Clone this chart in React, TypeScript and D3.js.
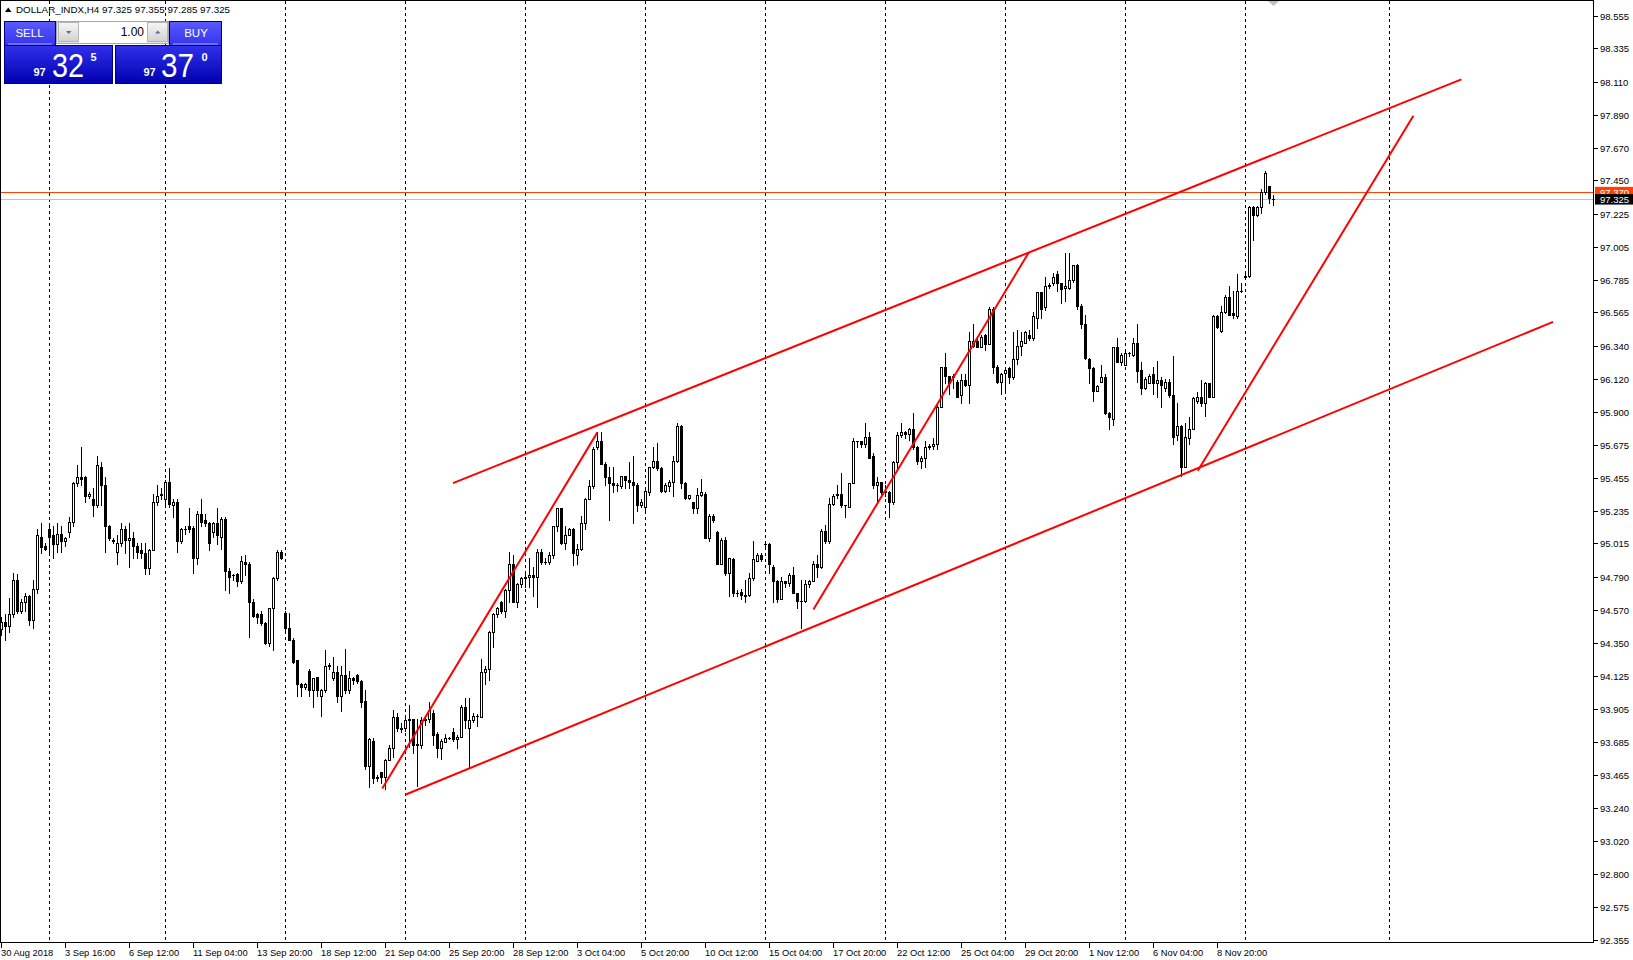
import React from 'react';
import * as d3 from 'd3';

// ---------- DATA ----------
// H4 candles [open, high, low, close], DOLLAR_INDX, 30 Aug 2018 -> 9 Nov 2018
const ohlc: [number, number, number, number][] = [
  [94.44,94.52,94.40,94.49],[94.49,94.54,94.37,94.46],[94.46,94.65,94.42,94.54],[94.54,94.82,94.52,94.77],
  [94.77,94.81,94.55,94.56],[94.56,94.64,94.55,94.62],[94.62,94.68,94.56,94.66],[94.66,94.67,94.47,94.50],
  [94.50,94.77,94.45,94.71],[94.71,95.11,94.68,95.07],[95.06,95.15,94.95,94.99],[95.00,95.02,94.97,94.98],
  [95.11,95.13,94.94,95.06],[95.07,95.13,94.92,95.01],[95.01,95.15,94.96,95.08],[95.08,95.13,94.96,95.03],
  [95.03,95.06,95.00,95.05],[95.09,95.19,95.06,95.16],[95.16,95.43,95.13,95.42],[95.42,95.54,95.40,95.46],
  [95.46,95.66,95.41,95.45],[95.46,95.47,95.29,95.33],[95.33,95.36,95.32,95.35],[95.31,95.39,95.20,95.27],
  [95.27,95.60,95.26,95.54],[95.53,95.56,95.27,95.41],[95.41,95.46,94.96,95.13],[95.13,95.14,95.04,95.05],
  [95.04,95.05,95.02,95.03],[94.96,95.07,94.88,95.02],[95.02,95.15,95.00,95.11],[95.11,95.13,94.95,95.04],
  [95.04,95.15,94.86,95.05],[95.05,95.09,94.92,95.00],[95.00,95.02,94.92,94.96],[94.97,95.02,94.92,94.95],
  [94.95,95.02,94.81,94.85],[94.85,94.98,94.81,94.97],[94.97,95.35,94.97,95.29],[95.29,95.41,95.27,95.33],
  [95.34,95.39,95.31,95.35],[95.31,95.44,95.27,95.43],[95.43,95.52,95.26,95.28],[95.27,95.31,95.19,95.29],
  [95.29,95.31,94.96,95.03],[95.03,95.12,95.02,95.11],[95.11,95.13,95.08,95.11],[95.13,95.25,95.09,95.11],
  [95.12,95.13,94.82,94.92],[94.92,95.23,94.88,95.21],[95.21,95.31,95.13,95.16],[95.17,95.21,95.13,95.15],
  [95.15,95.16,94.97,95.02],[95.09,95.16,95.06,95.15],[95.15,95.25,95.01,95.07],[95.06,95.19,94.98,95.18],
  [95.18,95.19,94.70,94.83],[94.83,94.85,94.68,94.79],[94.80,94.81,94.77,94.80],[94.81,94.82,94.73,94.76],
  [94.76,94.93,94.75,94.90],[94.89,94.94,94.80,94.88],[94.88,94.89,94.39,94.62],[94.62,94.64,94.52,94.53],
  [94.54,94.55,94.48,94.52],[94.54,94.56,94.47,94.48],[94.48,94.49,94.34,94.35],[94.35,94.58,94.33,94.58],
  [94.58,94.79,94.30,94.78],[94.78,94.97,94.77,94.96],[94.96,94.97,94.91,94.92],[94.55,94.56,94.43,94.45],
  [94.45,94.55,94.37,94.37],[94.37,94.38,94.21,94.22],[94.23,94.23,93.99,94.07],[94.07,94.08,93.99,94.05],
  [94.05,94.08,94.04,94.07],[94.16,94.17,93.99,94.03],[94.03,94.11,93.92,94.11],[94.12,94.12,93.99,94.03],
  [93.99,94.04,93.86,94.03],[94.03,94.30,94.02,94.19],[94.19,94.21,94.17,94.20],[94.11,94.25,94.10,94.15],
  [94.15,94.19,93.95,93.99],[93.99,94.19,93.89,94.13],[94.13,94.31,94.01,94.03],[94.03,94.16,94.01,94.11],
  [94.11,94.12,94.07,94.10],[94.13,94.14,94.08,94.09],[94.09,94.10,93.92,93.95],[93.96,94.03,93.50,93.52],
  [93.52,93.71,93.38,93.70],[93.69,93.71,93.41,93.44],[93.44,93.46,93.42,93.45],[93.48,93.48,93.41,93.45],
  [93.45,93.57,93.37,93.56],[93.56,93.66,93.56,93.64],[93.64,93.90,93.58,93.85],[93.85,93.88,93.76,93.78],
  [93.78,93.81,93.75,93.77],[93.78,93.86,93.76,93.83],[93.83,93.93,93.65,93.84],[93.84,93.84,93.61,93.66],
  [93.66,93.84,93.39,93.67],[93.66,93.85,93.64,93.83],[93.83,93.86,93.80,93.84],[93.84,93.95,93.82,93.90],
  [93.88,93.90,93.66,93.73],[93.74,93.75,93.58,93.64],[93.64,93.70,93.57,93.69],[93.68,93.74,93.68,93.71],
  [93.71,93.72,93.70,93.71],[93.75,93.78,93.69,93.70],[93.70,93.73,93.64,93.72],[93.72,93.93,93.72,93.92],
  [93.92,93.98,93.78,93.83],[93.78,93.98,93.51,93.83],[93.83,93.88,93.82,93.86],[93.86,93.87,93.79,93.86],
  [93.85,94.24,93.85,94.15],[94.15,94.19,94.07,94.17],[94.17,94.43,94.10,94.42],[94.42,94.55,94.32,94.54],
  [94.54,94.59,94.52,94.58],[94.62,94.63,94.55,94.56],[94.56,94.71,94.52,94.70],[94.70,94.96,94.62,94.88],
  [94.88,94.94,94.62,94.62],[94.62,94.75,94.59,94.74],[94.74,94.79,94.72,94.78],[94.78,94.82,94.72,94.79],
  [94.79,94.92,94.72,94.80],[94.80,94.86,94.66,94.79],[94.79,94.98,94.59,94.96],[94.96,94.98,94.88,94.89],
  [94.89,94.92,94.88,94.89],[94.89,94.96,94.88,94.94],[94.94,95.13,94.92,95.13],[95.13,95.25,95.10,95.25],
  [95.25,95.25,95.01,95.02],[95.02,95.13,94.98,95.07],[95.07,95.12,95.07,95.11],[95.11,95.12,94.87,94.95],
  [94.94,95.01,94.88,94.98],[94.98,95.20,94.97,95.15],[95.15,95.32,95.11,95.31],[95.31,95.44,95.31,95.40],
  [95.40,95.66,95.39,95.65],[95.66,95.76,95.65,95.70],[95.70,95.76,95.55,95.55],[95.55,95.56,95.41,95.46],
  [95.46,95.53,95.17,95.42],[95.42,95.53,95.36,95.41],[95.41,95.42,95.37,95.41],[95.40,95.47,95.39,95.47],
  [95.47,95.47,95.39,95.44],[95.44,95.56,95.39,95.43],[95.43,95.60,95.15,95.41],[95.41,95.42,95.23,95.27],
  [95.27,95.31,95.26,95.29],[95.26,95.39,95.23,95.37],[95.36,95.53,95.34,95.53],[95.53,95.66,95.52,95.57],
  [95.57,95.69,95.51,95.52],[95.52,95.53,95.36,95.37],[95.37,95.42,95.36,95.41],[95.40,95.44,95.37,95.43],
  [95.43,95.60,95.33,95.57],[95.57,95.82,95.56,95.80],[95.80,95.81,95.39,95.42],[95.42,95.43,95.31,95.32],
  [95.32,95.34,95.31,95.34],[95.29,95.29,95.22,95.25],[95.25,95.39,95.22,95.34],[95.34,95.45,95.33,95.36],
  [95.35,95.36,95.05,95.05],[95.05,95.21,95.03,95.20],[95.20,95.21,95.16,95.17],[95.09,95.10,94.88,94.88],
  [94.88,95.05,94.88,95.04],[95.04,95.06,94.80,94.82],[94.82,94.92,94.66,94.92],[94.91,94.92,94.66,94.68],
  [94.68,94.70,94.66,94.68],[94.69,94.71,94.64,94.67],[94.67,94.77,94.62,94.66],[94.67,94.82,94.66,94.78],
  [94.78,95.03,94.77,94.91],[94.90,94.95,94.90,94.94],[94.94,94.95,94.90,94.91],[95.01,95.02,95.00,95.01],
  [95.01,95.02,94.82,94.88],[94.86,94.87,94.62,94.76],[94.76,94.77,94.62,94.64],[94.64,94.79,94.64,94.76],
  [94.76,94.76,94.72,94.75],[94.75,94.82,94.73,94.80],[94.80,94.86,94.68,94.68],[94.68,94.68,94.58,94.63],
  [94.63,94.77,94.45,94.63],[94.63,94.77,94.62,94.74],[94.74,94.77,94.72,94.76],[94.76,94.90,94.76,94.88],
  [94.88,94.94,94.79,94.86],[94.86,95.11,94.85,95.10],[95.10,95.14,95.02,95.03],[95.03,95.32,95.02,95.28],
  [95.28,95.35,95.27,95.33],[95.34,95.41,95.32,95.35],[95.35,95.49,95.26,95.27],[95.27,95.27,95.19,95.27],
  [95.26,95.42,95.26,95.42],[95.42,95.72,95.42,95.70],[95.70,95.70,95.66,95.70],[95.70,95.70,95.66,95.68],
  [95.68,95.82,95.66,95.73],[95.73,95.76,95.59,95.59],[95.60,95.62,95.39,95.41],[95.41,95.46,95.29,95.43],
  [95.43,95.43,95.35,95.36],[95.37,95.41,95.33,95.36],[95.36,95.37,95.19,95.29],[95.29,95.57,95.28,95.56],
  [95.56,95.76,95.52,95.74],[95.74,95.82,95.73,95.76],[95.76,95.77,95.72,95.75],[95.75,95.79,95.71,95.78],
  [95.78,95.89,95.65,95.66],[95.66,95.67,95.55,95.57],[95.57,95.60,95.52,95.59],[95.59,95.70,95.53,95.66],
  [95.66,95.68,95.65,95.67],[95.67,95.72,95.65,95.68],[95.68,95.96,95.65,95.93],[95.93,96.20,95.93,96.20],
  [96.20,96.29,96.09,96.14],[96.14,96.14,96.02,96.09],[96.13,96.15,96.06,96.14],[96.10,96.11,96.00,96.00],
  [96.01,96.15,95.96,96.11],[96.11,96.15,96.07,96.08],[96.08,96.43,95.96,96.37],[96.34,96.49,96.33,96.37],
  [96.37,96.40,96.33,96.33],[96.33,96.41,96.33,96.40],[96.41,96.42,96.31,96.35],[96.35,96.60,96.35,96.59],
  [96.59,96.60,96.16,96.20],[96.20,96.21,96.09,96.10],[96.10,96.16,96.02,96.15],[96.16,96.20,96.04,96.18],
  [96.19,96.20,96.09,96.13],[96.13,96.43,96.12,96.25],[96.25,96.45,96.22,96.34],[96.34,96.43,96.28,96.37],
  [96.36,96.44,96.36,96.43],[96.41,96.45,96.38,96.39],[96.39,96.57,96.38,96.54],[96.53,96.70,96.46,96.70],
  [96.70,96.70,96.53,96.59],[96.60,96.80,96.58,96.74],[96.74,96.76,96.73,96.75],[96.76,96.83,96.75,96.80],
  [96.82,96.84,96.71,96.76],[96.76,96.76,96.63,96.72],[96.73,96.96,96.64,96.74],[96.73,96.96,96.72,96.78],
  [96.78,96.88,96.77,96.88],[96.88,96.89,96.59,96.61],[96.61,96.62,96.46,96.49],[96.49,96.55,96.25,96.26],
  [96.25,96.26,96.09,96.19],[96.19,96.20,95.97,96.04],[96.04,96.08,96.04,96.07],[96.10,96.21,96.10,96.13],
  [96.13,96.15,95.88,95.89],[95.89,95.90,95.78,95.86],[95.85,96.33,95.81,96.33],[96.33,96.39,96.23,96.23],
  [96.23,96.29,96.21,96.28],[96.21,96.31,96.21,96.29],[96.29,96.30,96.27,96.29],[96.28,96.39,96.27,96.36],
  [96.36,96.49,96.10,96.17],[96.18,96.23,96.02,96.06],[96.06,96.13,96.05,96.12],[96.09,96.15,96.09,96.14],
  [96.15,96.20,96.02,96.09],[96.09,96.24,96.00,96.11],[96.11,96.13,95.93,96.08],[96.06,96.12,96.04,96.10],
  [96.10,96.12,96.00,96.01],[96.01,96.27,95.68,95.73],[95.74,95.96,95.71,95.80],[95.80,95.81,95.47,95.53],
  [95.53,95.82,95.53,95.73],[95.72,95.86,95.68,95.78],[95.78,96.00,95.78,95.99],[95.97,96.03,95.96,96.00],
  [96.00,96.11,95.94,95.96],[95.96,96.10,95.87,96.09],[96.09,96.09,96.00,96.00],[96.00,96.55,96.00,96.54],
  [96.54,96.55,96.46,96.47],[96.44,96.61,96.43,96.57],[96.57,96.68,96.56,96.67],[96.67,96.74,96.55,96.55],
  [96.56,96.71,96.53,96.55],[96.54,96.82,96.53,96.71],[96.71,96.76,96.70,96.71],[96.80,96.83,96.80,96.81],
  [96.81,97.28,96.80,97.27],[97.27,97.28,97.05,97.22],[97.22,97.28,97.21,97.27],[97.27,97.39,97.23,97.37],
  [97.37,97.51,97.36,97.50],[97.41,97.41,97.30,97.33],[97.325,97.355,97.285,97.325],
];

const priceTicks = [98.555, 98.335, 98.110, 97.890, 97.670, 97.450, 97.225, 97.005, 96.785, 96.565, 96.340, 96.120,
  95.900, 95.675, 95.455, 95.235, 95.015, 94.790, 94.570, 94.350, 94.125, 93.905, 93.685, 93.465, 93.240, 93.020,
  92.800, 92.575, 92.355];

const timeLabels = ['30 Aug 2018', '3 Sep 16:00', '6 Sep 12:00', '11 Sep 04:00', '13 Sep 20:00', '18 Sep 12:00',
  '21 Sep 04:00', '25 Sep 20:00', '28 Sep 12:00', '3 Oct 04:00', '5 Oct 20:00', '10 Oct 12:00', '15 Oct 04:00',
  '17 Oct 20:00', '22 Oct 12:00', '25 Oct 04:00', '29 Oct 20:00', '1 Nov 12:00', '6 Nov 04:00', '8 Nov 20:00'];
const timeLabelBars = [0, 16, 32, 48, 64, 80, 96, 112, 128, 144, 160, 176, 192, 208, 224, 240, 256, 272, 288, 304];

const gridBars = [12, 41, 71, 101, 131, 161, 191, 221, 251, 281, 311, 347];

// trend lines: [barFrom, priceFrom, barTo, priceTo]
const trendLines: [number, number, number, number][] = [
  [113.0, 95.420, 365.1, 98.128],
  [101.05, 93.329, 388.0, 96.501],
  [95.3, 93.371, 149.1, 95.760],
  [203.1, 94.572, 257.0, 96.969],
  [299.2, 95.502, 353.1, 97.884],
];

const askPrice = 97.370;
const bidPrice = 97.325;
const headerText = 'DOLLAR_INDX,H4  97.325 97.355 97.285 97.325';
const lotText = '1.00';
const sellQuote = { big: '97', main: '32', sup: '5' };
const buyQuote = { big: '97', main: '37', sup: '0' };

// ---------- CHART ----------
const W = 1633;
const H = 960;
const RIGHT = 1593;
const BOTTOM = 942;
const FONT = '"Liberation Sans", Arial, sans-serif';

export default function App() {
  const x = d3.scaleLinear().domain([0, 398]).range([1, 1593]);
  const y = d3.scaleLinear().domain([92.355, 98.555]).range([940, 15.7]);
  const line = d3.line<[number, number]>().x(d => x(d[0])).y(d => y(d[1]));

  const candles = ohlc.map((c, i) => {
    const [o, h, l, cl] = c;
    const cx = Math.round(x(i));
    const top = Math.round(y(Math.max(o, cl)));
    const bot = Math.round(y(Math.min(o, cl)));
    const hy = Math.round(y(h));
    const ly = Math.round(y(l));
    const bull = cl >= o;
    return (
      <g key={i}>
        <line x1={cx + 0.5} x2={cx + 0.5} y1={hy} y2={ly + 1} stroke="#000" strokeWidth={1} />
        {bot - top < 1 ? (
          <line x1={cx - 1} x2={cx + 2} y1={top + 0.5} y2={top + 0.5} stroke="#000" strokeWidth={1} />
        ) : (
          <rect x={cx - 0.5} y={top + 0.5} width={2} height={bot - top} fill={bull ? '#fff' : '#000'} stroke="#000" strokeWidth={1} />
        )}
      </g>
    );
  });

  const askY = y(askPrice);
  const bidY = y(bidPrice);

  return (
    <div style={{ position: 'absolute', left: 0, top: 0 }}>
      <svg width={W} height={H} style={{ display: 'block', background: '#fff' }} fontFamily={FONT}>
        <defs>
          <linearGradient id="btnTop" x1="0" y1="0" x2="0" y2="1">
            <stop offset="0" stopColor="#5a5afc" />
            <stop offset="1" stopColor="#3434ec" />
          </linearGradient>
          <linearGradient id="priceBox" x1="0" y1="0" x2="0" y2="1">
            <stop offset="0" stopColor="#3030ea" />
            <stop offset="1" stopColor="#0000b0" />
          </linearGradient>
          <linearGradient id="grayBtn" x1="0" y1="0" x2="0" y2="1">
            <stop offset="0" stopColor="#f6f6f6" />
            <stop offset="1" stopColor="#d2d2d2" />
          </linearGradient>
          <clipPath id="askClip">
            <rect x={RIGHT + 2} y={0} width={W - RIGHT - 2} height={Math.round(bidY) - 5} />
          </clipPath>
        </defs>
        <rect x={0} y={0} width={W} height={H} fill="#fff" />

        {/* grid */}
        <g shapeRendering="crispEdges">
          {gridBars.map(b => (
            <line key={b} x1={Math.round(x(b)) + 0.5} x2={Math.round(x(b)) + 0.5} y1={1} y2={BOTTOM}
              stroke="#000" strokeWidth={1} strokeDasharray="3,3" />
          ))}
        </g>

        {/* bid / ask lines */}
        <g shapeRendering="crispEdges">
          <line x1={0} x2={RIGHT} y1={Math.round(askY) + 0.5} y2={Math.round(askY) + 0.5} stroke="#ff4000" strokeWidth={1} />
          <line x1={0} x2={RIGHT} y1={Math.round(bidY) + 0.5} y2={Math.round(bidY) + 0.5} stroke="#c0c0c0" strokeWidth={1} />
        </g>

        {/* candles */}
        <g shapeRendering="crispEdges">{candles}</g>

        {/* trend lines */}
        <g>
          {trendLines.map((t, i) => (
            <path key={i} d={line([[t[0], t[1]], [t[2], t[3]]]) || ''} stroke="#ff0000" strokeWidth={2} fill="none" />
          ))}
        </g>

        {/* frame */}
        <g shapeRendering="crispEdges" stroke="#000" strokeWidth={1} fill="none">
          <line x1={0.5} x2={0.5} y1={0} y2={BOTTOM + 1} />
          <line x1={0} x2={RIGHT + 1} y1={0.5} y2={0.5} />
          <line x1={RIGHT + 0.5} x2={RIGHT + 0.5} y1={0} y2={BOTTOM + 1} />
          <line x1={0} x2={RIGHT + 1} y1={BOTTOM + 0.5} y2={BOTTOM + 0.5} />
        </g>

        {/* shift marker */}
        <polygon points="1268,1 1279,1 1273.5,6" fill="#c0c0c0" />

        {/* price axis */}
        <g fontSize={9.5} fill="#000">
          {priceTicks.map(v => {
            const ty = Math.round(y(v)) + 0.5;
            return (
              <g key={v}>
                <line x1={RIGHT + 1} x2={RIGHT + 5} y1={ty} y2={ty} stroke="#000" shapeRendering="crispEdges" />
                <text x={1600} y={ty + 3.5}>{v.toFixed(3)}</text>
              </g>
            );
          })}
        </g>
        {/* ask / bid labels (ask label partly covered by bid label, as in terminal) */}
        <g fontSize={9.5}>
          <g clipPath="url(#askClip)">
            <rect x={RIGHT + 2} y={askY - 5.5} width={W - RIGHT - 2} height={10} fill="#ff4000" />
            <text x={1600} y={askY + 3.5} fill="#fff">{askPrice.toFixed(3)}</text>
          </g>
          <rect x={RIGHT + 2} y={bidY - 5} width={W - RIGHT - 2} height={10.5} fill="#000" />
          <text x={1600} y={bidY + 3.8} fill="#fff">{bidPrice.toFixed(3)}</text>
        </g>

        {/* time axis */}
        <g fontSize={9.3} fill="#000">
          {timeLabels.map((s, i) => {
            const tx = Math.round(x(timeLabelBars[i])) + 0.5;
            return (
              <g key={s}>
                <line x1={tx} x2={tx} y1={BOTTOM + 1} y2={BOTTOM + 6} stroke="#000" shapeRendering="crispEdges" />
                <text x={tx - 0.5} y={956}>{s}</text>
              </g>
            );
          })}
        </g>

        {/* header */}
        <polygon points="5,12 11.5,12 8.25,7.5" fill="#000" />
        <text x={16} y={12.5} fontSize={9.8} fill="#000">{headerText}</text>

        {/* one click trading panel */}
        <g>
          <rect x={4.5} y={45.5} width={108} height={38} fill="url(#priceBox)" stroke="#000080" />
          <rect x={115.5} y={45.5} width={106} height={38} fill="url(#priceBox)" stroke="#000080" />
          <rect x={4.5} y={21.5} width={51} height={24} fill="url(#btnTop)" stroke="#000080" />
          <line x1={8} x2={52} y1={44} y2={44} stroke="#a8a8ff" strokeWidth={1} />
          <text x={29.5} y={36.5} fontSize={11.5} fill="#fff" textAnchor="middle">SELL</text>
          <rect x={169.5} y={21.5} width={52} height={24} fill="url(#btnTop)" stroke="#000080" />
          <line x1={173} x2={218} y1={44} y2={44} stroke="#a8a8ff" strokeWidth={1} />
          <text x={196} y={36.5} fontSize={11.5} fill="#fff" textAnchor="middle">BUY</text>
          <rect x={56.5} y={21.5} width={112} height={22} fill="#e6e6e6" stroke="#a8a8a8" />
          <rect x={58.5} y={22.5} width={20} height={19} fill="url(#grayBtn)" stroke="#b4b4b4" />
          <rect x={79} y={22} width={68.5} height={21} fill="#fff" />
          <rect x={147.5} y={22.5} width={20} height={19} fill="url(#grayBtn)" stroke="#b4b4b4" />
          <polygon points="66,31 71.5,31 68.75,34" fill="#5d6ea0" />
          <polygon points="155,33.5 160.5,33.5 157.75,30.5" fill="#5d6ea0" />
          <text x={144} y={36} fontSize={12} fill="#000" textAnchor="end">{lotText}</text>
          <text x={33.5} y={76} fontSize={11} fontWeight="bold" fill="#fff">{sellQuote.big}</text>
          <text x={52} y={76.5} fontSize={34} fill="#fff" textLength={32} lengthAdjust="spacingAndGlyphs">{sellQuote.main}</text>
          <text x={90.5} y={61} fontSize={11} fontWeight="bold" fill="#fff">{sellQuote.sup}</text>
          <text x={143.5} y={76} fontSize={11} fontWeight="bold" fill="#fff">{buyQuote.big}</text>
          <text x={161} y={76.5} fontSize={34} fill="#fff" textLength={33} lengthAdjust="spacingAndGlyphs">{buyQuote.main}</text>
          <text x={201.5} y={61} fontSize={11} fontWeight="bold" fill="#fff">{buyQuote.sup}</text>
        </g>
      </svg>
    </div>
  );
}
